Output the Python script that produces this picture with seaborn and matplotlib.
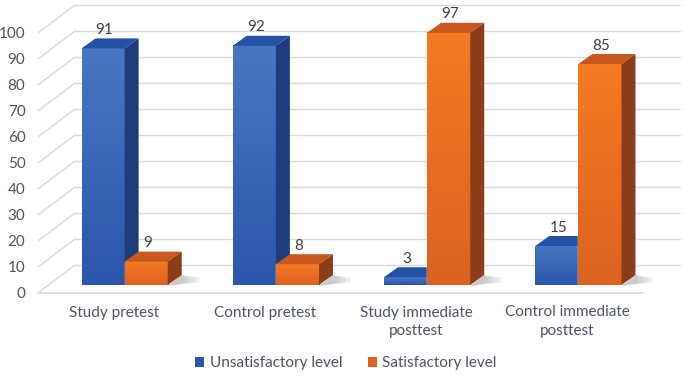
import numpy as np
import pandas as pd
import matplotlib
matplotlib.use("Agg")
import matplotlib.pyplot as plt
from matplotlib.patches import Polygon, Patch
from matplotlib.colors import LinearSegmentedColormap
import seaborn as sns

groups = ["Study pretest", "Control pretest", "Study immediate\nposttest", "Control immediate\nposttest"]
levels = ["Unsatisfactory level", "Satisfactory level"]
unsatisfactory = [91, 92, 3, 15]
satisfactory = [9, 8, 97, 85]
y_ticks = list(range(0, 101, 10))

# colours per level: front top, front bottom, top face, side face
front_top = ["#4876c2", "#f47a24"]
front_bottom = ["#2b56ab", "#dc6222"]
top_face = ["#2451a6", "#c8581f"]
side_face = ["#1f3d7c", "#8a3d18"]
grid_color = "#d9d9d9"
text_color = "#4d5566"

df = pd.DataFrame({
    "group": groups * 2,
    "level": [levels[0]] * 4 + [levels[1]] * 4,
    "value": unsatisfactory + satisfactory,
})

sns.set_style("white")
plt.rcParams["font.family"] = ["Lato", "DejaVu Sans"]

W, H = 685, 382
fig = plt.figure(figsize=(W / 100, H / 100), dpi=100)
# front floor: x 38..643 px, value 0 at y=293 px, 100 at y=33 px
ax = fig.add_axes([38 / W, (H - 293) / H, 605 / W, 260 / H])

sns.barplot(data=df, x="group", y="value", hue="level", order=groups, hue_order=levels,
            palette=[front_bottom[0], front_bottom[1]], width=0.57, saturation=1,
            errorbar=None, legend=False, ax=ax)

xlim = (-0.5, 3.5)
ylim = (0, 100)
ax.set_xlim(*xlim)
ax.set_ylim(*ylim)
px_x = 605 / (xlim[1] - xlim[0])
px_y = 260 / (ylim[1] - ylim[0])

def off(dx, dy):
    return dx / px_x, dy / px_y

floor_dx, floor_dy = off(37, 28)   # depth of the whole chart box
plane_dx, plane_dy = off(11, 8)    # where the bar fronts sit
bar_dx, bar_dy = off(14, 10)       # depth of a single bar

# back wall gridlines and left wall diagonals
right_back = (680 - 38) / px_x + xlim[0]
for t in y_ticks:
    ax.plot([xlim[0], xlim[0] + floor_dx], [t, t + floor_dy], color=grid_color, lw=1, zorder=0, clip_on=False)
    ax.plot([xlim[0] + floor_dx, right_back], [t + floor_dy, t + floor_dy], color=grid_color, lw=1, zorder=0, clip_on=False)
ax.plot([xlim[0], xlim[1]], [0, 0], color=grid_color, lw=1.2, zorder=0, clip_on=False)

for cont in ax.containers:
    for patch in cont.patches:
        patch.set_x(patch.get_x() + plane_dx)
        patch.set_y(plane_dy)
        patch.set_clip_on(False)

z = 2
for j in range(len(groups)):
    for i, cont in enumerate(ax.containers):
        patch = cont.patches[j]
        x0, y0 = patch.get_x(), patch.get_y()
        w, h = patch.get_width(), patch.get_height()
        x1, y1 = x0 + w, y0 + h
        z += 1
        # soft shadow on the floor, a few layers to blur it
        for k in range(4):
            s = 1.2 + 0.35 * k
            ax.add_patch(Polygon([(x1, y0 - 1 / px_y), (x1 + bar_dx * s, y0 + bar_dy * 0.25),
                                  (x1 + bar_dx * s, y0 + bar_dy * 0.75), (x1 + bar_dx, y0 + bar_dy)],
                                 closed=True, color="#808080", alpha=0.12, lw=0, zorder=1, clip_on=False))
        patch.set_zorder(z)
        cmap = LinearSegmentedColormap.from_list("g%d" % i, [front_bottom[i], front_top[i]])
        grad = np.linspace(0, 1, 64).reshape(-1, 1)
        ax.imshow(grad, extent=[x0, x1, y0, y1], origin="lower", aspect="auto", cmap=cmap,
                  zorder=z + 0.1, clip_on=False, interpolation="bilinear")
        ax.add_patch(Polygon([(x0, y1), (x1, y1), (x1 + bar_dx, y1 + bar_dy), (x0 + bar_dx, y1 + bar_dy)],
                             closed=True, color=top_face[i], lw=0, zorder=z + 0.2, clip_on=False))
        ax.add_patch(Polygon([(x1, y0), (x1 + bar_dx, y0 + bar_dy), (x1 + bar_dx, y1 + bar_dy), (x1, y1)],
                             closed=True, color=side_face[i], lw=0, zorder=z + 0.2, clip_on=False))
        ax.text(x0 + w / 2 + bar_dx * 0.1, y1 + bar_dy + 1.5 / px_y, str(int(round(h))),
                ha="center", va="bottom", fontsize=11, color="#404040", zorder=50)

ax.set_xlim(*xlim)
ax.set_ylim(*ylim)
ax.set_yticks(y_ticks)
ax.set_yticklabels([str(t) for t in y_ticks])
ax.set_xticks(range(len(groups)))
ax.set_xticklabels(groups, linespacing=1.45)
ax.tick_params(axis="y", length=0, pad=9, labelsize=11, labelcolor=text_color)
ax.tick_params(axis="x", length=0, pad=9, labelsize=11, labelcolor=text_color)
ax.set_xlabel("")
ax.set_ylabel("")
sns.despine(ax=ax, left=True, bottom=True)
ax.set_facecolor("none")

handles = [Patch(facecolor=front_bottom[k], edgecolor="none") for k in range(2)]
fig.legend(handles, levels, loc="lower center", bbox_to_anchor=(0.505, -0.005), ncol=2, frameon=False,
           fontsize=11, handlelength=0.6, handleheight=0.6, handletextpad=0.35, columnspacing=1.7,
           labelcolor=text_color)

fig.savefig("out.png", dpi=100)
